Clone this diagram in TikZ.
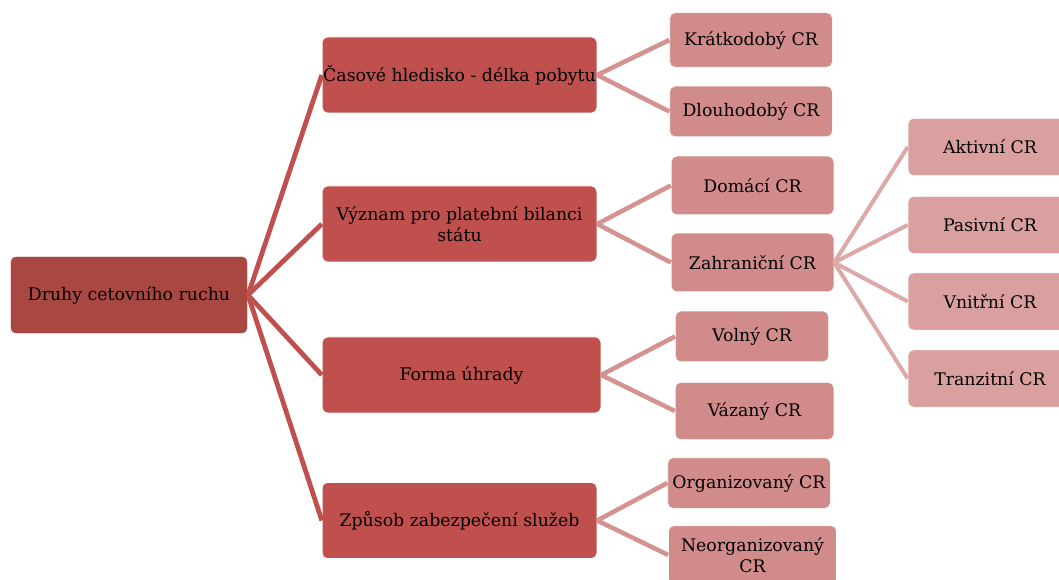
\documentclass[tikz,border=0pt]{standalone}
\usepackage{fontspec}
\setmainfont{DejaVu Serif}

\definecolor{rootred}{HTML}{A94743}
\definecolor{onered}{HTML}{C0504D}
\definecolor{twored}{HTML}{D08B8A}
\definecolor{threered}{HTML}{D9A09F}
\definecolor{twolink}{HTML}{D39391}
\definecolor{threelink}{HTML}{DCA9A8}

\tikzset{
  box/.style={rounded corners=4pt,draw=white,line width=0.5pt,align=center,
    inner xsep=0pt,inner ysep=1pt,font=\fontsize{13}{16}\selectfont},
  rootbox/.style={box,fill=rootred,minimum width=178pt,minimum height=58pt},
  onebox/.style={box,fill=onered,minimum width=206pt,minimum height=57pt},
  twobox/.style={box,fill=twored,minimum width=122pt,minimum height=41pt},
  threebox/.style={box,fill=threered,minimum width=123pt,minimum height=43pt},
  linkone/.style={onered,line width=3.6pt},
  linktwo/.style={twolink,line width=3.4pt},
  linkthree/.style={threelink,line width=3pt}
}

\begin{document}
\begin{tikzpicture}[x=0.75pt,y=-0.75pt]
\useasboundingbox (0,0) rectangle (1059,580);
% koren
\node[rootbox] (druhy) at (129,295) {Druhy cetovního ruchu};
% prvni uroven
\node[onebox] (cas) at (459.5,75) {Časové hledisko - délka pobytu};
\node[onebox] (vyz) at (459.5,224) {Význam pro platební bilanci\\státu};
\node[onebox,minimum width=209pt] (forma) at (461.5,375) {Forma úhrady};
\node[onebox] (zpus) at (459.5,520.5) {Způsob zabezpečení služeb};
% druha uroven
\node[twobox] (krat) at (751,40) {Krátkodobý CR};
\node[twobox,minimum height=38pt] (dlou) at (751,111.5) {Dlouhodobý CR};
\node[twobox,minimum height=44pt] (doma) at (752.5,185.5) {Domácí CR};
\node[twobox,minimum height=44pt] (zahr) at (752.5,262.5) {Zahraniční CR};
\node[twobox,minimum width=115pt,minimum height=38pt] (voln) at (752,336.5) {Volný CR};
\node[twobox,minimum width=119pt,minimum height=43pt] (vaz) at (754.5,411) {Vázaný CR};
\node[twobox,minimum height=38pt] (org) at (749,483) {Organizovaný CR};
\node[twobox,minimum width=126pt,minimum height=44pt] (neorg) at (752.5,555) {Neorganizovaný\\CR};
% treti uroven
\node[threebox] (akt) at (990,147) {Aktivní CR};
\node[threebox] (pas) at (990,225) {Pasivní CR};
\node[threebox] (vnit) at (990,301.5) {Vnitřní CR};
\node[threebox] (tran) at (990,378.5) {Tranzitní CR};
% spojnice
\foreach \c in {cas,vyz,forma,zpus}
  \draw[linkone] (druhy.east) -- (\c.west);
\draw[linktwo] (cas.east) -- (krat.west);
\draw[linktwo] (cas.east) -- (dlou.west);
\draw[linktwo] (vyz.east) -- (doma.west);
\draw[linktwo] (vyz.east) -- (zahr.west);
\draw[linktwo] (forma.east) -- (voln.west);
\draw[linktwo] (forma.east) -- (vaz.west);
\draw[linktwo] (zpus.east) -- (org.west);
\draw[linktwo] (zpus.east) -- (neorg.west);
\foreach \c in {akt,pas,vnit,tran}
  \draw[linkthree] (zahr.east) -- (\c.west);
\end{tikzpicture}
\end{document}
